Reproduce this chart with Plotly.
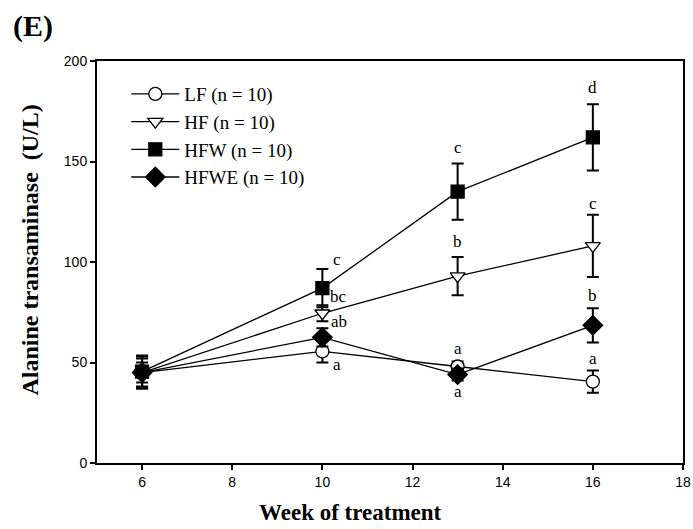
import plotly.graph_objects as go

weeks = [6, 10, 13, 16]
lf = [45, 55.5, 48, 40.5]
lf_err = [8, 5.5, 2.5, 5.5]
hf = [45, 74.5, 93, 108]
hf_err = [5, 4, 9.5, 15.5]
hfw = [45.5, 87, 135, 162]
hfw_err = [8, 9.5, 14, 16.5]
hfwe = [45, 62.5, 44, 68.5]
hfwe_err = [7, 4.5, 3, 8.5]

# significance letters
letter_x = [10.33, 10.36, 10.36, 10.33, 13, 13, 13, 13, 16, 16, 16, 16]
letter_y = [101, 83, 70.5, 49, 157, 110, 57, 35.5, 187, 129, 83.5, 52]
letter_t = ["c", "bc", "ab", "a", "c", "b", "a", "a", "d", "c", "b", "a"]

x_ticks = [6, 8, 10, 12, 14, 16, 18]
y_ticks = [0, 50, 100, 150, 200]

series = [
    ("LF (n = 10)", lf, lf_err, "circle", "white"),
    ("HF (n = 10)", hf, hf_err, "triangle-down", "white"),
    ("HFW (n = 10)", hfw, hfw_err, "square", "black"),
    ("HFWE (n = 10)", hfwe, hfwe_err, "diamond", "black"),
]

fig = go.Figure()
for name, vals, errs, sym, fill in series:
    fig.add_trace(go.Scatter(
        x=weeks, y=vals, name=name, mode="lines+markers",
        line=dict(color="black", width=1.3),
        marker=dict(symbol=sym, size=13 if sym != "diamond" else 15, color=fill,
                    line=dict(color="black", width=1.3)),
        error_y=dict(type="data", array=errs, visible=True, color="black",
                     thickness=2, width=6),
    ))

for x, y, t in zip(letter_x, letter_y, letter_t):
    fig.add_annotation(x=x, y=y, text=t, showarrow=False,
                       font=dict(family="Liberation Serif", size=17, color="black"))

fig.add_annotation(xref="paper", yref="paper", x=-0.147, y=1.087, xanchor="left",
                   yanchor="middle", text="<b>(E)</b>", showarrow=False,
                   font=dict(family="Liberation Serif", size=30, color="black"))
fig.add_annotation(xref="paper", yref="paper", x=0.433, y=-0.122, xanchor="center",
                   yanchor="middle", text="<b>Week of treatment</b>", showarrow=False,
                   font=dict(family="Liberation Serif", size=23, color="black"))
fig.add_annotation(xref="paper", yref="paper", x=-0.115, y=0.53, xanchor="center",
                   yanchor="middle", text="<b>Alanine transaminase  (U/L)</b>",
                   textangle=-90, showarrow=False,
                   font=dict(family="Liberation Serif", size=24, color="black"))

fig.update_layout(
    width=693, height=529,
    margin=dict(l=97, r=10, t=61, b=66, autoexpand=False),
    paper_bgcolor="white", plot_bgcolor="white",
    font=dict(family="Liberation Sans", color="black"),
    legend=dict(x=0.05, y=0.965, xanchor="left", yanchor="top",
                font=dict(family="Liberation Serif", size=19, color="black"),
                bgcolor="rgba(0,0,0,0)", tracegroupgap=0, itemwidth=48),
    showlegend=True,
)
fig.update_xaxes(range=[5, 18], tickvals=x_ticks, automargin=False,
                 showgrid=False, zeroline=False, showline=True, linecolor="black",
                 linewidth=2, mirror=True, ticks="outside", ticklen=5, tickwidth=1.5,
                 tickcolor="black", tickfont=dict(family="Liberation Sans", size=14))
fig.update_yaxes(range=[0, 200], tickvals=y_ticks, automargin=False,
                 showgrid=False, zeroline=False, showline=True, linecolor="black",
                 linewidth=2, mirror=True, ticks="outside", ticklen=5, tickwidth=1.5,
                 tickcolor="black", tickfont=dict(family="Liberation Sans", size=14))

fig.write_html("out.html", config={"displayModeBar": False},
               post_script="document.body.style.margin='0';document.body.style.overflow='hidden';")
